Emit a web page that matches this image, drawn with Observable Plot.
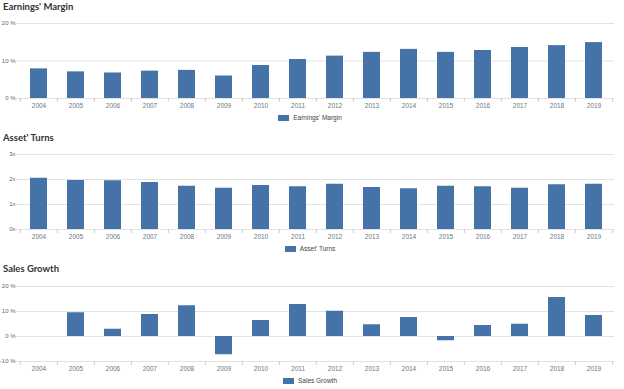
<!DOCTYPE html>
<html>
<head>
<meta charset="utf-8">
<script src="https://cdn.jsdelivr.net/npm/d3@7"></script>
<script src="https://cdn.jsdelivr.net/npm/@observablehq/plot@0.6"></script>
<style>
  html, body { margin: 0; padding: 0; background: #fff; }
  #root { position: relative; width: 624px; height: 389px; overflow: hidden; font-family: "Liberation Sans", Arial, sans-serif; }
  .title { position: absolute; left: 3px; font-family: Lato, sans-serif; font-weight: bold; font-size: 9.5px; color: #333; line-height: 12px; }
  .chart { position: absolute; left: 0; }
  .legend { position: absolute; left: 0; width: 620px; display: flex; justify-content: center; align-items: center; font-size: 6.5px; color: #444; line-height: 8px; }
  .sw { display: inline-block; width: 11px; height: 6px; background: #4572A7; margin-right: 4px; }
</style>
</head>
<body>
<div id="root"></div>
<script>
const years = ["2004","2005","2006","2007","2008","2009","2010","2011","2012","2013","2014","2015","2016","2017","2018","2019"];
const earningsMargin = [7.9, 7.1, 6.8, 7.3, 7.5, 6.0, 8.8, 10.4, 11.3, 12.3, 13.1, 12.3, 12.8, 13.6, 14.1, 14.9];
const assetTurns = [2.05, 1.96, 1.95, 1.88, 1.73, 1.65, 1.76, 1.71, 1.81, 1.68, 1.63, 1.73, 1.71, 1.65, 1.79, 1.81];
const salesGrowth = [null, 9.5, 2.9, 8.8, 12.3, -7.3, 6.4, 12.8, 10.1, 4.7, 7.6, -1.7, 4.4, 4.9, 15.6, 8.4];

const titles = ["Earnings' Margin", "Asset' Turns", "Sales Growth"];
const marginTicks = [0, 10, 20];
const turnsTicks = [0, 1, 2, 3];
const growthTicks = [-10, 0, 10, 20];

const BAR = "#4572A7";
const W = 624, H = 97, ML = 18, MR = 10, MT = 7, MB = 15;
const step = (W - ML - MR) / years.length;

function panel(values, ticks, fmt, domain) {
  const data = years.map((y, i) => ({year: y, value: values[i]}));
  return Plot.plot({
    width: W, height: H,
    marginLeft: ML, marginRight: MR, marginTop: MT, marginBottom: MB,
    style: {background: "transparent", fontFamily: "'Liberation Sans', Arial, sans-serif", fontSize: "6px", overflow: "visible"},
    x: {type: "band", domain: years, paddingInner: 0.54, paddingOuter: 0.27, label: null},
    y: {domain, label: null},
    marks: [
      Plot.gridY(ticks, {stroke: "#e2e2e2", strokeOpacity: 1, insetLeft: -2}),
      Plot.axisY(ticks, {tickSize: 0, tickPadding: 3, tickFormat: fmt, fill: "#666", fontSize: 6, label: null}),
      Plot.barY(data.filter(d => d.value != null), {x: "year", y: "value", fill: BAR}),
      Plot.axisX(years, {tickSize: 0, tickPadding: 5, fill: "#6b7788", fontSize: 6.5, label: null}),
      Plot.axisX(years, {tickSize: 4, stroke: "#cfcfcf", strokeOpacity: 1, fill: "none", dx: -step / 2, label: null}),
      Plot.axisX([years[years.length - 1]], {tickSize: 4, stroke: "#cfcfcf", strokeOpacity: 1, fill: "none", dx: step / 2, label: null})
    ]
  });
}

const root = document.getElementById("root");
const specs = [
  {values: earningsMargin, ticks: marginTicks, fmt: d => d + " %", domain: [0, 20], titleTop: 1, chartTop: 16, legendTop: 114},
  {values: assetTurns, ticks: turnsTicks, fmt: d => d + "x", domain: [0, 3], titleTop: 132, chartTop: 147, legendTop: 245},
  {values: salesGrowth, ticks: growthTicks, fmt: d => d + " %", domain: [-10, 20], titleTop: 263, chartTop: 279, legendTop: 377}
];
specs.forEach((s, i) => {
  const t = document.createElement("div");
  t.className = "title"; t.style.top = s.titleTop + "px"; t.textContent = titles[i];
  root.appendChild(t);
  const c = document.createElement("div");
  c.className = "chart"; c.style.top = s.chartTop + "px";
  c.appendChild(panel(s.values, s.ticks, s.fmt, s.domain));
  root.appendChild(c);
  const l = document.createElement("div");
  l.className = "legend"; l.style.top = s.legendTop + "px";
  const sw = document.createElement("span"); sw.className = "sw";
  const tx = document.createElement("span"); tx.textContent = titles[i];
  l.appendChild(sw); l.appendChild(tx);
  root.appendChild(l);
});
</script>
</body>
</html>
